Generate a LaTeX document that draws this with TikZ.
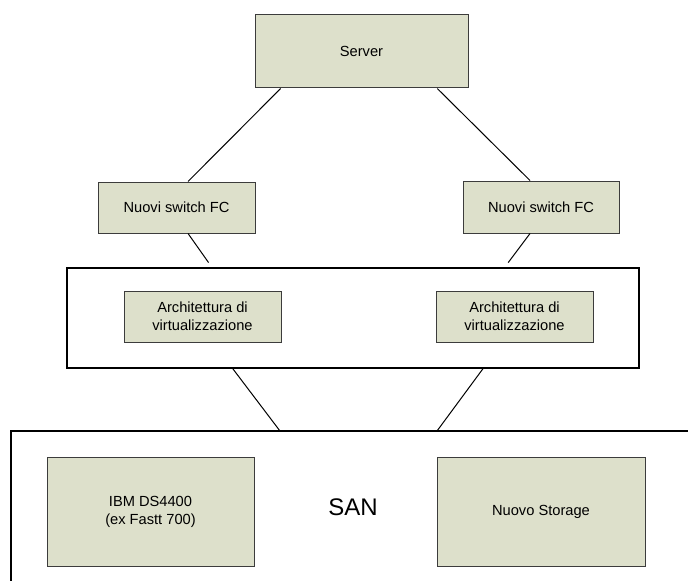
\documentclass[tikz,border=0pt]{standalone}
\usepackage{fontspec}
\setmainfont{Liberation Sans}
\usetikzlibrary{calc}

\definecolor{boxfill}{RGB}{221,224,203}
\definecolor{boxline}{RGB}{60,60,60}

\begin{document}
\begin{tikzpicture}[x=0.75pt,y=0.75pt,yscale=-1,xscale=1,
  greybox/.style={draw=boxline,fill=boxfill,line width=0.75pt,inner sep=0pt,align=center,font=\fontsize{11}{13.5}\selectfont},
  frame/.style={draw=black,line width=0.8pt,inner sep=0pt},
  link/.style={draw=black,line width=0.75pt}]
\useasboundingbox (0,0) rectangle (688,581);

%Shape: Rectangle [Server]
\node[greybox,minimum width=213*0.75pt,minimum height=73*0.75pt] (server) at (361.5,51.5) {Server};
%Shape: Rectangle [switch]
\node[greybox,minimum width=157*0.75pt,minimum height=51*0.75pt] (swL) at (176.5,207.5) {Nuovi switch FC};
\node[greybox,minimum width=156*0.75pt,minimum height=52*0.75pt] (swR) at (541,207) {Nuovi switch FC};
%Shape: Rectangle [virtualizzazione]
\node[frame,minimum width=572*0.75pt,minimum height=100*0.75pt] (virt) at (353,318) {};
\node[greybox,minimum width=157*0.75pt,minimum height=51*0.75pt] (virtL) at (202.5,316.5) {Architettura di\\virtualizzazione};
\node[greybox,minimum width=157*0.75pt,minimum height=51*0.75pt] (virtR) at (514.5,316.5) {Architettura di\\virtualizzazione};
%Shape: open frame [SAN]
\coordinate (santl) at (11,431);
\draw[line width=1.5pt] (11,581) -- (santl) -- (688,431);
\coordinate (sanL) at (280,431);
\coordinate (sanR) at (437,431);
%Shape: Rectangle [storage]
\node[greybox,minimum width=207*0.75pt,minimum height=109*0.75pt] (ibm) at (150.5,511.5) {IBM DS4400\\(ex Fastt 700)};
\node[greybox,minimum width=208*0.75pt,minimum height=109*0.75pt] (nuovo) at (541,511.5) {Nuovo Storage};

% Text Node
\node[font=\fontsize{18}{21}\selectfont] (san) at (353,507) {SAN};

% Connection
\draw[link] ($(server.south west)!0.122!(server.south east)$) -- ($(swL.north west)!0.573!(swL.north east)$);
\draw[link] ($(server.south west)!0.854!(server.south east)$) -- ($(swR.north west)!0.43!(swR.north east)$);
% Connection
\draw[link,shorten >=4.5pt] ($(swL.south west)!0.573!(swL.south east)$) -- ($(virt.north west)!0.254!(virt.north east)$);
\draw[link,shorten >=4.5pt] ($(swR.south west)!0.43!(swR.south east)$) -- ($(virt.north west)!0.7645!(virt.north east)$);
% Connection
\draw[link] ($(virt.south west)!0.29!(virt.south east)$) -- (sanL);
\draw[link] ($(virt.south west)!0.727!(virt.south east)$) -- (sanR);

\end{tikzpicture}
\end{document}
